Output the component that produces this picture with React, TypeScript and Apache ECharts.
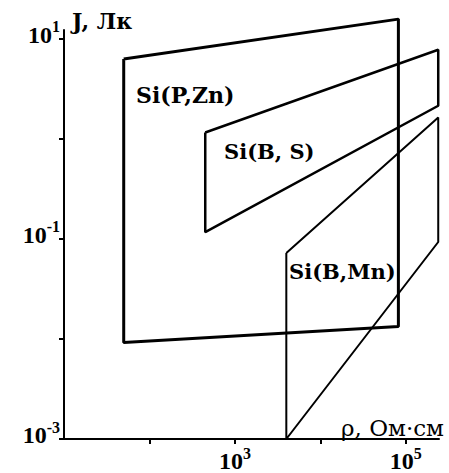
import React, { useEffect, useRef } from "react";
import * as echarts from "echarts";

// axis ticks and labels (ρ in Ом·см, J in Лк)
const xTickValues = [100, 1000, 10000, 100000];
const xLabelValues = [1000, 100000];
const yTickValues = [10, 1, 0.1, 0.01, 0.001];
const yLabelValues = [10, 0.1, 0.001];

// quadrilaterals: corners (ρ, J)
const siPZnRho = [50, 82000, 82000, 50];
const siPZnJ = [6.3, 15.8, 0.0133, 0.0092];

const siBSRho = [450, 240000, 240000, 450];
const siBSJ = [1.16, 7.8, 2.15, 0.117];

const siBMnRho = [4000, 240000, 240000, 4000];
const siBMnJ = [0.0726, 1.64, 0.0933, 0.001];

const seriesNames = ["Si(P,Zn)", "Si(B, S)", "Si(B,Mn)"];

function closed(xs: number[], ys: number[]) {
  const pts = xs.map((x, i) => [x, ys[i]]);
  pts.push(pts[0]);
  return pts;
}

const supFormatter = (v: number) => {
  const e = Math.round(Math.log10(v));
  return `{b|10}{s|${e}}`;
};

const labelRich = {
  b: {
    fontFamily: "Liberation Serif",
    fontWeight: "bold",
    fontSize: 24,
    lineHeight: 28,
    color: "#000",
    verticalAlign: "bottom",
  },
  s: {
    fontFamily: "Liberation Serif",
    fontWeight: "bold",
    fontSize: 16,
    lineHeight: 16,
    color: "#000",
    verticalAlign: "top",
  },
};

export default function App() {
  const ref = useRef<HTMLDivElement>(null);
  useEffect(() => {
    if (!ref.current) return;
    const chart = echarts.init(ref.current, null, { renderer: "svg" });
    const lineStyleFor = (w: number) => ({ color: "#000", width: w });
    chart.setOption({
      animation: false,
      backgroundColor: "#fff",
      grid: { left: 64, top: 30, width: 375, height: 411 },
      xAxis: {
        type: "log",
        logBase: 10,
        min: 10,
        max: 245000,
        axisLine: { lineStyle: { color: "#000", width: 2 } },
        axisTick: {
          show: true,
          length: 5,
          customValues: xTickValues,
          lineStyle: { color: "#000", width: 2 },
        },
        axisLabel: {
          customValues: xLabelValues,
          formatter: supFormatter,
          rich: labelRich,
          margin: 6,
        },
        splitLine: { show: false },
        minorTick: { show: false },
      },
      yAxis: {
        type: "log",
        logBase: 10,
        min: 0.001,
        max: 12.3,
        axisLine: { lineStyle: { color: "#000", width: 2 } },
        axisTick: {
          show: true,
          length: 5,
          customValues: yTickValues,
          lineStyle: { color: "#000", width: 2 },
        },
        axisLabel: {
          customValues: yLabelValues,
          formatter: supFormatter,
          rich: labelRich,
          margin: 4,
          padding: [0, 0, 12, 0],
        },
        splitLine: { show: false },
        minorTick: { show: false },
      },
      series: [
        {
          name: seriesNames[0],
          type: "line",
          data: closed(siPZnRho, siPZnJ),
          showSymbol: false,
          clip: false,
          lineStyle: lineStyleFor(3),
        },
        {
          name: seriesNames[1],
          type: "line",
          data: closed(siBSRho, siBSJ),
          showSymbol: false,
          clip: false,
          lineStyle: lineStyleFor(2.5),
        },
        {
          name: seriesNames[2],
          type: "line",
          data: closed(siBMnRho, siBMnJ),
          showSymbol: false,
          clip: false,
          lineStyle: lineStyleFor(2),
        },
      ],
      graphic: [
        {
          type: "text",
          left: 72,
          top: 10,
          style: {
            text: "J, Лк",
            font: "bold 22px 'DejaVu Serif'",
            fill: "#000",
          },
        },
        {
          type: "text",
          left: 341,
          top: 416,
          style: {
            text: "ρ, Ом·см",
            font: "23px 'DejaVu Serif'",
            fill: "#000",
          },
        },
        {
          type: "text",
          left: 136,
          top: 84,
          style: {
            text: seriesNames[0],
            font: "bold 22px 'DejaVu Serif'",
            fill: "#000",
          },
        },
        {
          type: "text",
          left: 224,
          top: 141,
          style: {
            text: seriesNames[1],
            font: "bold 21px 'DejaVu Serif'",
            fill: "#000",
          },
        },
        {
          type: "text",
          left: 289,
          top: 261,
          style: {
            text: seriesNames[2],
            font: "bold 21px 'DejaVu Serif'",
            fill: "#000",
          },
        },
      ],
    });
    return () => chart.dispose();
  }, []);
  return (
    <div
      ref={ref}
      style={{ position: "fixed", left: 0, top: 0, width: 449, height: 473 }}
    />
  );
}
